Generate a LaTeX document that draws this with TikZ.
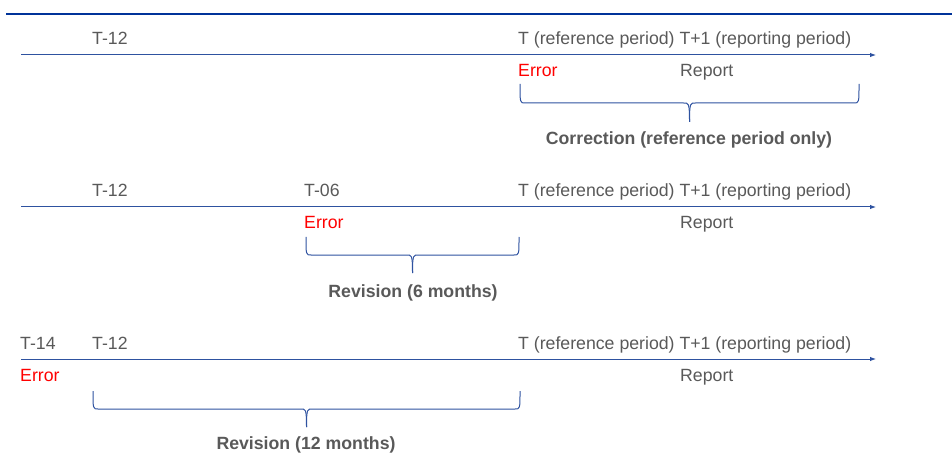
\documentclass[tikz,border=0pt]{standalone}
\usepackage{fontspec}
\setmainfont{Liberation Sans}
\usetikzlibrary{arrows.meta}
\definecolor{rulebl}{HTML}{003399}
\definecolor{linebl}{HTML}{2E52A0}
\definecolor{txtgray}{HTML}{595959}
\definecolor{errred}{HTML}{FF0000}
\tikzset{
  lbl/.style={anchor=base west, inner sep=0pt, text=txtgray, font=\fontsize{17.7}{20}\selectfont},
  errlbl/.style={lbl, text=errred},
  boldlbl/.style={anchor=base, inner sep=0pt, text=txtgray, font=\fontsize{17.7}{20}\selectfont\bfseries},
  timeline/.style={draw=linebl, line width=1pt, -{Latex[length=6pt,width=4.5pt]}},
  bracestyle/.style={draw=linebl, line width=1pt},
}
\newcommand{\tlbrace}[5]{% x1, x2, ytop, yh, ytip
  \pgfmathsetmacro{\bc}{(#1+#2)/2}
  \draw[bracestyle] (#1,#3) .. controls (#1,#4) and (#1,#4) .. (#1+5,#4)
    -- (\bc-6,#4) .. controls (\bc-1,#4) and (\bc,#4-1) .. (\bc,#5);
  \draw[bracestyle] (#2,#3) .. controls (#2,#4) and (#2,#4) .. (#2-5,#4)
    -- (\bc+6,#4) .. controls (\bc+1,#4) and (\bc,#4-1) .. (\bc,#5);
}
\begin{document}
\begin{tikzpicture}[x=1pt,y=-1pt]
\useasboundingbox (0,0) rectangle (952,470);
% top rule
\coordinate (rl) at (6,14);
\coordinate (rr) at (952,14);
\draw[rulebl, line width=2.6pt] (rl) -- (rr);

% ---------- row 1 ----------
\coordinate (s1) at (21,55);
\coordinate (e1) at (876,55);
\draw[timeline] (s1) -- (e1);
\node[lbl] (a12) at (92,45) {T-12};
\node[lbl] (aT) at (518,45) {T (reference period) T+1 (reporting period)};
\node[errlbl] (aerr) at (518,77) {Error};
\node[lbl] (arep) at (680,77) {Report};
\tlbrace{520}{859}{84}{103}{122}
\node[boldlbl] (alab) at (689,145) {Correction (reference period only)};

% ---------- row 2 ----------
\coordinate (s2) at (21,207);
\coordinate (e2) at (876,207);
\draw[timeline] (s2) -- (e2);
\node[lbl] (b12) at (92,197) {T-12};
\node[lbl] (b06) at (304,197) {T-06};
\node[lbl] (bT) at (518,197) {T (reference period) T+1 (reporting period)};
\node[errlbl] (berr) at (304,229) {Error};
\node[lbl] (brep) at (680,229) {Report};
\tlbrace{306}{519}{237}{255}{273}
\node[boldlbl] (blab) at (413,297) {Revision (6 months)};

% ---------- row 3 ----------
\coordinate (s3) at (21,359);
\coordinate (e3) at (876,359);
\draw[timeline] (s3) -- (e3);
\node[lbl] (c14) at (20,349) {T-14};
\node[lbl] (c12) at (92,349) {T-12};
\node[lbl] (cT) at (518,349) {T (reference period) T+1 (reporting period)};
\node[errlbl] (cerr) at (20,381) {Error};
\node[lbl] (crep) at (680,381) {Report};
\tlbrace{93}{520}{391}{409}{427}
\node[boldlbl] (clab) at (306,449) {Revision (12 months)};
\end{tikzpicture}
\end{document}
